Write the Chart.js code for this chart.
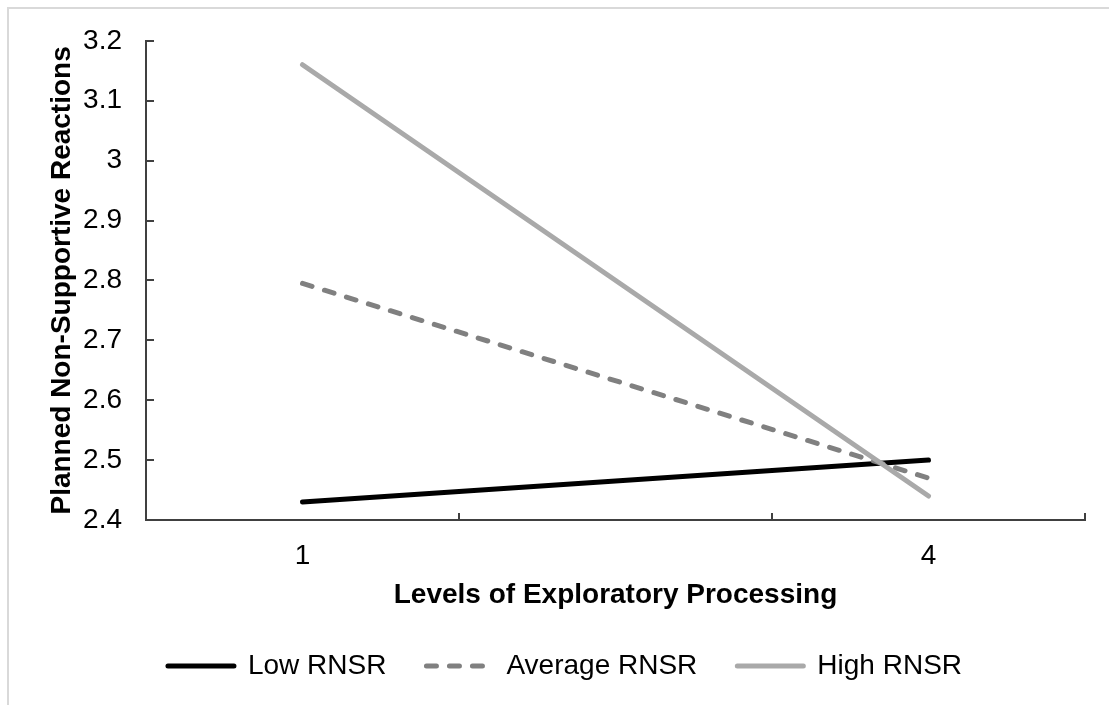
<!DOCTYPE html>
<html>
<head>
<meta charset="utf-8">
<script src="https://cdn.jsdelivr.net/npm/chart.js@4"></script>
<style>
  body { margin: 0; background: #fff; }
  #frame { position: absolute; left: 7px; top: 7px; right: 0; bottom: 0;
           border-top: 2px solid #d9d9d9; border-left: 2px solid #d9d9d9; }
  #chart { position: absolute; left: 0; top: 0; }
</style>
</head>
<body>
<div id="frame"></div>
<canvas id="chart" width="1109" height="705"></canvas>
<script>
// exploratory processing levels (middle category has no label)
const levels = ['1', '', '4'];
const lowRNSR = [2.43, null, 2.50];
const averageRNSR = [2.795, null, 2.47];
const highRNSR = [3.16, null, 2.44];
const yTicks = [2.4, 2.5, 2.6, 2.7, 2.8, 2.9, 3, 3.1, 3.2];

const font = "'Liberation Sans', Arial, sans-serif";

// Excel style tick marks that point into the plot area
const innerTicks = {
  id: 'innerTicks',
  beforeDatasetsDraw(chart) {
    const {ctx, chartArea, scales: {x, y}} = chart;
    ctx.save();
    ctx.strokeStyle = '#404040';
    ctx.lineWidth = 2;
    ctx.beginPath();
    y.ticks.forEach(t => {
      const py = Math.round(y.getPixelForValue(t.value));
      ctx.moveTo(chartArea.left, py);
      ctx.lineTo(chartArea.left + 8, py);
    });
    for (let i = 0; i <= levels.length; i++) {
      const px = Math.round(x.getPixelForValue(i - 0.5));
      ctx.moveTo(px, chartArea.bottom);
      ctx.lineTo(px, chartArea.bottom - 7);
    }
    ctx.stroke();
    ctx.restore();
  }
};

new Chart(document.getElementById('chart'), {
  type: 'line',
  data: {
    labels: levels,
    datasets: [{
      label: 'Low RNSR',
      data: lowRNSR,
      borderColor: '#000000',
      backgroundColor: '#000000',
      borderWidth: 5,
      borderCapStyle: 'round',
      order: 2
    }, {
      label: 'Average RNSR',
      data: averageRNSR,
      borderColor: '#808080',
      backgroundColor: '#808080',
      borderWidth: 5,
      borderDash: [10, 13],
      borderCapStyle: 'round',
      order: 1
    }, {
      label: 'High RNSR',
      data: highRNSR,
      borderColor: '#a9a9a9',
      backgroundColor: '#a9a9a9',
      borderWidth: 5,
      borderCapStyle: 'round',
      order: 0
    }]
  },
  options: {
    responsive: false,
    animation: false,
    spanGaps: true,
    elements: { point: { radius: 0, hoverRadius: 0 }, line: { tension: 0 } },
    layout: { padding: { left: 45, right: 24, top: 39, bottom: 15 } },
    scales: {
      x: {
        offset: true,
        grid: { display: false, offset: true, drawTicks: false },
        border: { color: '#404040', width: 2 },
        ticks: { color: '#000', padding: 19, font: { family: font, size: 28 } },
        title: {
          display: true,
          text: 'Levels of Exploratory Processing',
          color: '#000',
          font: { family: font, size: 28, weight: 'bold' },
          padding: { top: 0, bottom: 0 }
        },
        afterFit(scale) { scale.height = 92; }
      },
      y: {
        min: 2.4,
        max: 3.2,
        afterBuildTicks(scale) { scale.ticks = yTicks.map(v => ({ value: v })); },
        grid: { display: false, drawTicks: false },
        border: { color: '#404040', width: 2 },
        ticks: {
          color: '#000',
          padding: 24,
          font: { family: font, size: 28 },
          callback: v => String(+Number(v).toFixed(1))
        },
        title: {
          display: true,
          text: 'Planned Non-Supportive Reactions',
          color: '#000',
          font: { family: font, size: 28, weight: 'bold' },
          padding: { top: 0, bottom: 0 }
        },
        afterFit(scale) { scale.width = 101; }
      }
    },
    plugins: {
      legend: {
        position: 'bottom',
        labels: {
          usePointStyle: true,
          pointStyle: 'line',
          pointStyleWidth: 66,
          padding: 40,
          color: '#000',
          font: { family: font, size: 28 },
          generateLabels(chart) {
            return chart.data.datasets.map((ds, i) => ({
              text: ds.label,
              datasetIndex: i,
              fillStyle: ds.borderColor,
              strokeStyle: ds.borderColor,
              lineWidth: ds.borderWidth,
              lineDash: ds.borderDash || [],
              lineCap: 'round',
              pointStyle: 'line',
              fontColor: '#000',
              hidden: false
            }));
          }
        }
      },
      tooltip: { enabled: false }
    }
  },
  plugins: [innerTicks]
});
</script>
</body>
</html>
